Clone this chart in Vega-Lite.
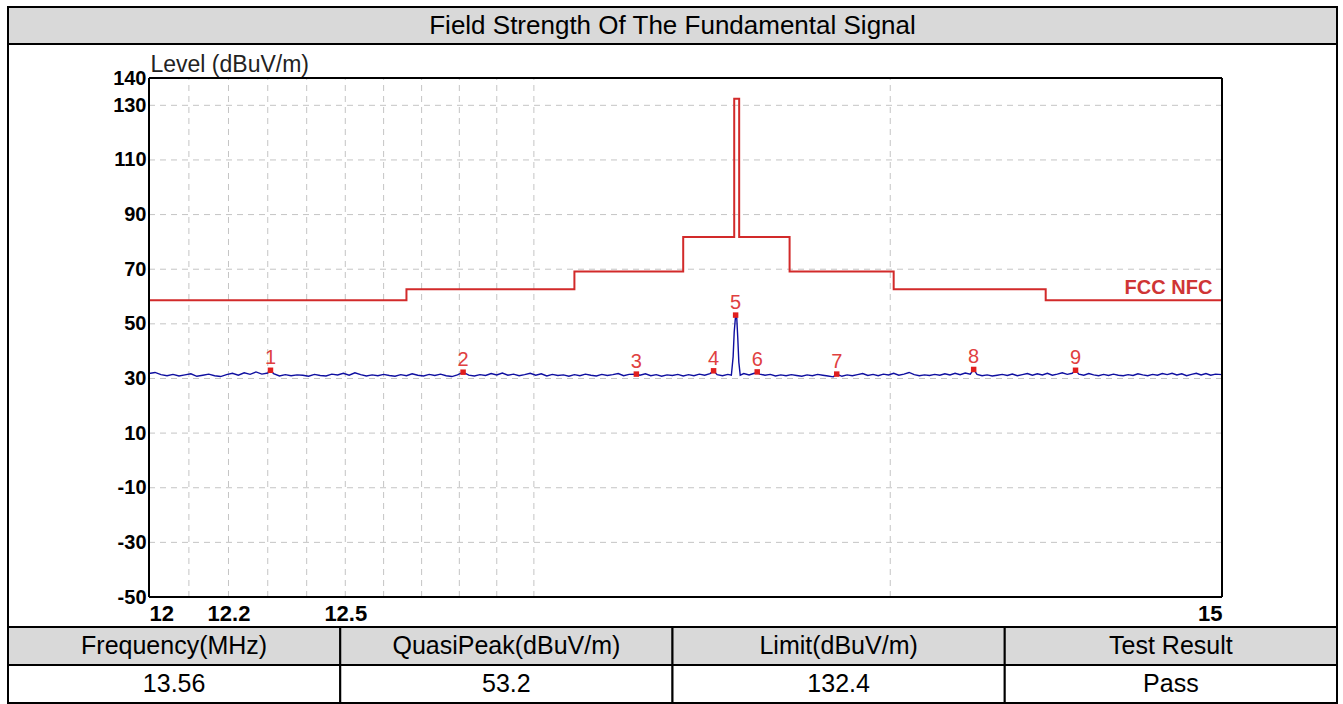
{
  "$schema": "https://vega.github.io/schema/vega-lite/v6.json",
  "padding": {"left": 6, "top": 6, "right": 6, "bottom": 0},
  "background": "white",
  "spacing": 0,
  "bounds": "flush",
  "config": {"font": "Liberation Sans", "view": {"stroke": "black", "strokeWidth": 2}},
  "datasets": {
    "title": [{"t": "Field Strength Of The Fundamental Signal"}],
    "table": [
      {"c": 0, "r": "h", "t": "Frequency(MHz)"},
      {"c": 1, "r": "h", "t": "QuasiPeak(dBuV/m)"},
      {"c": 2, "r": "h", "t": "Limit(dBuV/m)"},
      {"c": 3, "r": "h", "t": "Test Result"},
      {"c": 0, "r": "v", "t": "13.56"},
      {"c": 1, "r": "v", "t": "53.2"},
      {"c": 2, "r": "v", "t": "132.4"},
      {"c": 3, "r": "v", "t": "Pass"}
    ],
    "hgrid": [{"lv": 130}, {"lv": 110}, {"lv": 90}, {"lv": 70}, {"lv": 50}, {"lv": 30}, {"lv": 10}, {"lv": -10}, {"lv": -30}],
    "vgrid": [{"f": 12.1}, {"f": 12.2}, {"f": 12.3}, {"f": 12.4}, {"f": 12.5}, {"f": 12.6}, {"f": 12.7}, {"f": 12.8}, {"f": 12.9}, {"f": 13}, {"f": 14}],
    "box": [
      {"fa": 12, "fb": 15, "la": 140, "lb": 140},
      {"fa": 12, "fb": 15, "la": -50, "lb": -50},
      {"fa": 12, "fb": 12, "la": -50, "lb": 140},
      {"fa": 15, "fb": 15, "la": -50, "lb": 140}
    ],
    "limit": [
      {"f": 12, "v": 58.6}, {"f": 12.66, "v": 62.7}, {"f": 13.11, "v": 69.2}, {"f": 13.41, "v": 81.8},
      {"f": 13.553, "v": 132.4}, {"f": 13.567, "v": 81.8}, {"f": 13.71, "v": 69.2}, {"f": 14.01, "v": 62.7},
      {"f": 14.46, "v": 58.6}, {"f": 15, "v": 58.6}
    ],
    "limitLabel": [{"f": 14.97, "v": 58.6, "t": "FCC NFC"}],
    "markers": [
      {"n": "1", "f": 12.307, "v": 33.0},
      {"n": "2", "f": 12.81, "v": 32.3},
      {"n": "3", "f": 13.28, "v": 31.6},
      {"n": "4", "f": 13.495, "v": 32.8},
      {"n": "5", "f": 13.557, "v": 53.2},
      {"n": "6", "f": 13.618, "v": 32.4},
      {"n": "7", "f": 13.845, "v": 31.6},
      {"n": "8", "f": 14.245, "v": 33.3},
      {"n": "9", "f": 14.55, "v": 33.0}
    ],
    "trace": [
      {"f": 12.000, "v": 31.8}, {"f": 12.015, "v": 32.2}, {"f": 12.030, "v": 31.4}, {"f": 12.045, "v": 31.0},
      {"f": 12.060, "v": 31.5}, {"f": 12.075, "v": 30.9}, {"f": 12.090, "v": 31.3}, {"f": 12.105, "v": 31.7},
      {"f": 12.120, "v": 30.8}, {"f": 12.135, "v": 31.2}, {"f": 12.150, "v": 31.6}, {"f": 12.165, "v": 31.0},
      {"f": 12.180, "v": 30.7}, {"f": 12.195, "v": 31.4}, {"f": 12.210, "v": 31.9}, {"f": 12.225, "v": 31.2},
      {"f": 12.240, "v": 32.1}, {"f": 12.255, "v": 31.5}, {"f": 12.270, "v": 32.4}, {"f": 12.285, "v": 31.6},
      {"f": 12.300, "v": 32.0}, {"f": 12.307, "v": 33.0}, {"f": 12.315, "v": 31.8}, {"f": 12.330, "v": 30.9},
      {"f": 12.345, "v": 31.4}, {"f": 12.360, "v": 31.0}, {"f": 12.375, "v": 31.3}, {"f": 12.390, "v": 31.2},
      {"f": 12.405, "v": 30.8}, {"f": 12.420, "v": 31.5}, {"f": 12.435, "v": 31.1}, {"f": 12.450, "v": 30.9},
      {"f": 12.465, "v": 31.6}, {"f": 12.480, "v": 31.3}, {"f": 12.495, "v": 31.9}, {"f": 12.510, "v": 31.2},
      {"f": 12.525, "v": 32.1}, {"f": 12.540, "v": 31.4}, {"f": 12.555, "v": 30.9}, {"f": 12.570, "v": 31.3},
      {"f": 12.585, "v": 31.0}, {"f": 12.600, "v": 31.5}, {"f": 12.615, "v": 31.1}, {"f": 12.630, "v": 30.8},
      {"f": 12.645, "v": 31.4}, {"f": 12.660, "v": 31.0}, {"f": 12.675, "v": 31.7}, {"f": 12.690, "v": 31.2},
      {"f": 12.705, "v": 30.9}, {"f": 12.720, "v": 31.5}, {"f": 12.735, "v": 31.1}, {"f": 12.750, "v": 31.6},
      {"f": 12.765, "v": 31.0}, {"f": 12.780, "v": 30.7}, {"f": 12.795, "v": 31.3}, {"f": 12.810, "v": 32.3},
      {"f": 12.825, "v": 31.2}, {"f": 12.840, "v": 30.9}, {"f": 12.855, "v": 31.4}, {"f": 12.870, "v": 31.1},
      {"f": 12.885, "v": 31.8}, {"f": 12.900, "v": 31.3}, {"f": 12.915, "v": 32.0}, {"f": 12.930, "v": 31.2},
      {"f": 12.945, "v": 31.6}, {"f": 12.960, "v": 31.0}, {"f": 12.975, "v": 31.4}, {"f": 12.990, "v": 31.9},
      {"f": 13.005, "v": 31.2}, {"f": 13.020, "v": 31.7}, {"f": 13.035, "v": 30.9}, {"f": 13.050, "v": 31.5},
      {"f": 13.065, "v": 31.1}, {"f": 13.080, "v": 31.3}, {"f": 13.095, "v": 30.8}, {"f": 13.110, "v": 31.4},
      {"f": 13.125, "v": 31.0}, {"f": 13.140, "v": 31.6}, {"f": 13.155, "v": 31.2}, {"f": 13.170, "v": 30.9},
      {"f": 13.185, "v": 31.5}, {"f": 13.200, "v": 31.1}, {"f": 13.215, "v": 31.4}, {"f": 13.230, "v": 31.8},
      {"f": 13.245, "v": 31.0}, {"f": 13.260, "v": 31.5}, {"f": 13.280, "v": 31.6}, {"f": 13.290, "v": 31.2},
      {"f": 13.305, "v": 31.7}, {"f": 13.320, "v": 31.0}, {"f": 13.335, "v": 31.4}, {"f": 13.350, "v": 30.8},
      {"f": 13.365, "v": 31.3}, {"f": 13.380, "v": 31.1}, {"f": 13.395, "v": 31.5}, {"f": 13.410, "v": 30.9},
      {"f": 13.425, "v": 31.4}, {"f": 13.440, "v": 31.0}, {"f": 13.455, "v": 31.6}, {"f": 13.470, "v": 31.2},
      {"f": 13.485, "v": 31.8}, {"f": 13.495, "v": 32.8}, {"f": 13.505, "v": 31.4}, {"f": 13.520, "v": 31.0},
      {"f": 13.535, "v": 31.5}, {"f": 13.545, "v": 31.2}, {"f": 13.550, "v": 38.0}, {"f": 13.553, "v": 47.0},
      {"f": 13.557, "v": 53.2}, {"f": 13.560, "v": 52.6}, {"f": 13.563, "v": 45.0}, {"f": 13.566, "v": 36.0},
      {"f": 13.570, "v": 31.2}, {"f": 13.580, "v": 31.8}, {"f": 13.595, "v": 31.3}, {"f": 13.610, "v": 31.9},
      {"f": 13.618, "v": 32.4}, {"f": 13.625, "v": 31.6}, {"f": 13.640, "v": 31.2}, {"f": 13.655, "v": 31.5},
      {"f": 13.670, "v": 30.9}, {"f": 13.685, "v": 31.3}, {"f": 13.700, "v": 31.0}, {"f": 13.715, "v": 31.4},
      {"f": 13.730, "v": 31.1}, {"f": 13.745, "v": 30.8}, {"f": 13.760, "v": 31.3}, {"f": 13.775, "v": 31.0},
      {"f": 13.790, "v": 31.5}, {"f": 13.805, "v": 31.2}, {"f": 13.820, "v": 30.9}, {"f": 13.835, "v": 30.6},
      {"f": 13.845, "v": 31.6}, {"f": 13.860, "v": 30.8}, {"f": 13.875, "v": 31.3}, {"f": 13.890, "v": 31.0},
      {"f": 13.905, "v": 31.4}, {"f": 13.920, "v": 31.8}, {"f": 13.935, "v": 31.1}, {"f": 13.950, "v": 31.5},
      {"f": 13.965, "v": 31.0}, {"f": 13.980, "v": 31.6}, {"f": 13.995, "v": 31.3}, {"f": 14.010, "v": 31.9},
      {"f": 14.025, "v": 31.2}, {"f": 14.040, "v": 31.6}, {"f": 14.055, "v": 32.2}, {"f": 14.070, "v": 31.4},
      {"f": 14.085, "v": 31.0}, {"f": 14.100, "v": 31.3}, {"f": 14.115, "v": 31.1}, {"f": 14.130, "v": 31.5},
      {"f": 14.145, "v": 31.2}, {"f": 14.160, "v": 31.7}, {"f": 14.175, "v": 31.3}, {"f": 14.190, "v": 31.9},
      {"f": 14.205, "v": 31.4}, {"f": 14.220, "v": 32.0}, {"f": 14.235, "v": 31.6}, {"f": 14.245, "v": 33.3},
      {"f": 14.255, "v": 31.5}, {"f": 14.270, "v": 31.0}, {"f": 14.285, "v": 31.3}, {"f": 14.300, "v": 30.9},
      {"f": 14.315, "v": 31.2}, {"f": 14.330, "v": 31.5}, {"f": 14.345, "v": 31.1}, {"f": 14.360, "v": 31.6},
      {"f": 14.375, "v": 31.0}, {"f": 14.390, "v": 31.4}, {"f": 14.405, "v": 31.8}, {"f": 14.420, "v": 31.2},
      {"f": 14.435, "v": 31.7}, {"f": 14.450, "v": 31.3}, {"f": 14.465, "v": 31.9}, {"f": 14.480, "v": 31.2},
      {"f": 14.495, "v": 31.6}, {"f": 14.510, "v": 32.1}, {"f": 14.525, "v": 31.5}, {"f": 14.540, "v": 31.9},
      {"f": 14.550, "v": 33.0}, {"f": 14.560, "v": 31.6}, {"f": 14.575, "v": 31.2}, {"f": 14.590, "v": 31.8},
      {"f": 14.605, "v": 31.3}, {"f": 14.620, "v": 31.0}, {"f": 14.635, "v": 31.5}, {"f": 14.650, "v": 31.1},
      {"f": 14.665, "v": 31.6}, {"f": 14.680, "v": 31.2}, {"f": 14.695, "v": 31.0}, {"f": 14.710, "v": 31.4},
      {"f": 14.725, "v": 31.1}, {"f": 14.740, "v": 31.7}, {"f": 14.755, "v": 31.3}, {"f": 14.770, "v": 31.0},
      {"f": 14.785, "v": 31.5}, {"f": 14.800, "v": 31.2}, {"f": 14.815, "v": 31.8}, {"f": 14.830, "v": 31.4},
      {"f": 14.845, "v": 31.9}, {"f": 14.860, "v": 31.3}, {"f": 14.875, "v": 31.7}, {"f": 14.890, "v": 31.0},
      {"f": 14.905, "v": 31.5}, {"f": 14.920, "v": 31.9}, {"f": 14.935, "v": 31.3}, {"f": 14.950, "v": 31.8},
      {"f": 14.965, "v": 31.2}, {"f": 14.980, "v": 31.6}, {"f": 15.000, "v": 31.4}
    ]
  },
  "vconcat": [
    {
      "width": 1329,
      "height": 37,
      "view": {"fill": "#d9d9d9", "stroke": "black", "strokeWidth": 2},
      "data": {"name": "title"},
      "mark": {"type": "text", "fontSize": 26, "color": "black", "font": "Liberation Sans"},
      "encoding": {"text": {"field": "t", "type": "nominal"}}
    },
    {
      "width": 1329,
      "height": 583,
      "view": {"fill": "white", "stroke": "black", "strokeWidth": 2},
      "layer": [
        {
          "data": {"name": "hgrid"},
          "mark": {"type": "rule", "color": "#c4c4c4", "strokeWidth": 1, "strokeDash": [6, 5]},
          "encoding": {
            "y": {
              "field": "lv", "type": "quantitative",
              "scale": {"domain": [-50, 140], "range": [553, 34], "nice": false, "zero": false},
              "axis": {
                "values": [-50, -30, -10, 10, 30, 50, 70, 90, 110, 130, 140],
                "labelExpr": "'' + datum.value", "grid": false, "ticks": false, "domain": false, "offset": -141,
                "labelFontSize": 20, "labelFontWeight": "bold", "labelColor": "black", "labelPadding": 3,
                "labelFont": "Liberation Sans",
                "title": "Level (dBuV/m)", "titleAngle": 0, "titleAlign": "left", "titleBaseline": "alphabetic",
                "titleX": 1, "titleY": 27, "titleFontSize": 23, "titleFontWeight": "normal", "titleColor": "#222222",
                "titleFont": "Liberation Sans"
              }
            },
            "x": {
              "datum": 12, "type": "quantitative",
              "scale": {"type": "log", "domain": [12, 15], "range": [141, 1214], "nice": false, "zero": false},
              "axis": {
                "values": [12, 12.2, 12.5, 15], "labelExpr": "'' + datum.value", "labelFlush": true,
                "grid": false, "ticks": false, "domain": false, "offset": -30, "title": null,
                "labelFontSize": 22, "labelFontWeight": "bold", "labelColor": "black", "labelPadding": 6,
                "labelFont": "Liberation Sans"
              }
            },
            "x2": {"datum": 15}
          }
        },
        {
          "data": {"name": "vgrid"},
          "mark": {"type": "rule", "color": "#c4c4c4", "strokeWidth": 1, "strokeDash": [6, 5]},
          "encoding": {
            "x": {"field": "f", "type": "quantitative", "scale": {"type": "log", "domain": [12, 15], "range": [141, 1214], "nice": false, "zero": false}},
            "y": {"datum": -50, "type": "quantitative", "scale": {"domain": [-50, 140], "range": [553, 34], "nice": false, "zero": false}},
            "y2": {"datum": 140}
          }
        },
        {
          "data": {"name": "limit"},
          "mark": {"type": "line", "interpolate": "step-after", "color": "#d22a2a", "strokeWidth": 2},
          "encoding": {
            "x": {"field": "f", "type": "quantitative", "scale": {"type": "log", "domain": [12, 15], "range": [141, 1214], "nice": false, "zero": false}},
            "y": {"field": "v", "type": "quantitative", "scale": {"domain": [-50, 140], "range": [553, 34], "nice": false, "zero": false}}
          }
        },
        {
          "data": {"name": "limitLabel"},
          "mark": {"type": "text", "align": "right", "baseline": "alphabetic", "dy": -6, "fontSize": 20, "fontWeight": "bold", "color": "#cf3535", "font": "Liberation Sans"},
          "encoding": {
            "x": {"field": "f", "type": "quantitative", "scale": {"type": "log", "domain": [12, 15], "range": [141, 1214], "nice": false, "zero": false}},
            "y": {"field": "v", "type": "quantitative", "scale": {"domain": [-50, 140], "range": [553, 34], "nice": false, "zero": false}},
            "text": {"field": "t", "type": "nominal"}
          }
        },
        {
          "data": {"name": "trace"},
          "mark": {"type": "line", "color": "#0f0fa0", "strokeWidth": 1.4},
          "encoding": {
            "x": {"field": "f", "type": "quantitative", "scale": {"type": "log", "domain": [12, 15], "range": [141, 1214], "nice": false, "zero": false}},
            "y": {"field": "v", "type": "quantitative", "scale": {"domain": [-50, 140], "range": [553, 34], "nice": false, "zero": false}}
          }
        },
        {
          "data": {"name": "markers"},
          "mark": {"type": "point", "shape": "square", "filled": true, "size": 30, "color": "#e01e1e", "opacity": 1},
          "encoding": {
            "x": {"field": "f", "type": "quantitative", "scale": {"type": "log", "domain": [12, 15], "range": [141, 1214], "nice": false, "zero": false}},
            "y": {"field": "v", "type": "quantitative", "scale": {"domain": [-50, 140], "range": [553, 34], "nice": false, "zero": false}}
          }
        },
        {
          "data": {"name": "markers"},
          "mark": {"type": "text", "baseline": "alphabetic", "dy": -6, "fontSize": 20, "color": "#e04040", "font": "Liberation Sans"},
          "encoding": {
            "x": {"field": "f", "type": "quantitative", "scale": {"type": "log", "domain": [12, 15], "range": [141, 1214], "nice": false, "zero": false}},
            "y": {"field": "v", "type": "quantitative", "scale": {"domain": [-50, 140], "range": [553, 34], "nice": false, "zero": false}},
            "text": {"field": "n", "type": "nominal"}
          }
        },
        {
          "data": {"name": "box"},
          "mark": {"type": "rule", "color": "black", "strokeWidth": 2},
          "encoding": {
            "x": {"field": "fa", "type": "quantitative", "scale": {"type": "log", "domain": [12, 15], "range": [141, 1214], "nice": false, "zero": false}},
            "x2": {"field": "fb"},
            "y": {"field": "la", "type": "quantitative", "scale": {"domain": [-50, 140], "range": [553, 34], "nice": false, "zero": false}},
            "y2": {"field": "lb"}
          }
        }
      ]
    },
    {
      "width": 1329,
      "height": 76,
      "view": {"stroke": "black", "strokeWidth": 2},
      "data": {"name": "table"},
      "encoding": {
        "x": {"field": "c", "type": "ordinal", "scale": {"paddingInner": 0, "paddingOuter": 0}, "axis": null},
        "y": {"field": "r", "type": "ordinal", "scale": {"domain": ["h", "v"], "paddingInner": 0, "paddingOuter": 0}, "axis": null}
      },
      "layer": [
        {
          "mark": {"type": "rect", "stroke": "black", "strokeWidth": 2},
          "encoding": {
            "fill": {"field": "r", "type": "nominal", "scale": {"domain": ["h", "v"], "range": ["#d9d9d9", "#ffffff"]}, "legend": null}
          }
        },
        {
          "mark": {"type": "text", "fontSize": 25, "color": "black", "font": "Liberation Sans"},
          "encoding": {"text": {"field": "t", "type": "nominal"}}
        }
      ]
    }
  ]
}
